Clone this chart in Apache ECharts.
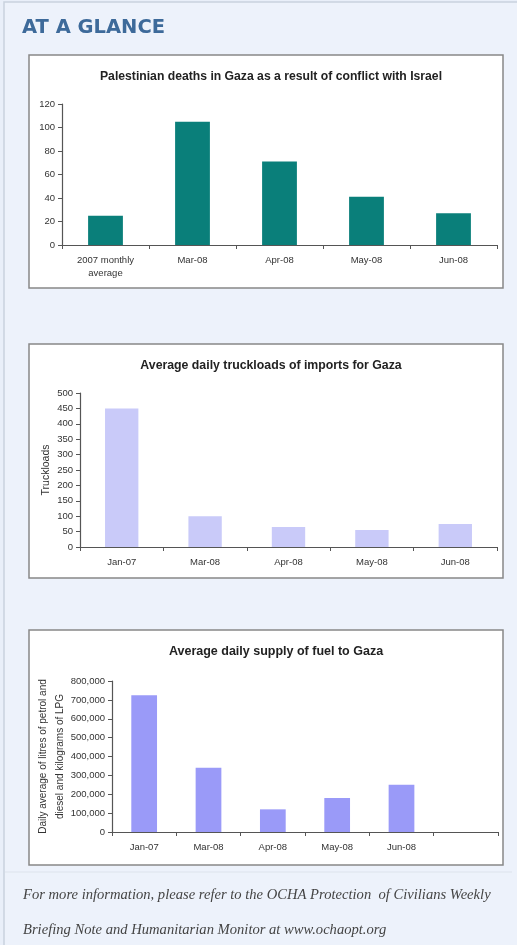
<!DOCTYPE html>
<html>
<head>
<meta charset="utf-8">
<script src="https://cdn.jsdelivr.net/npm/echarts@6/dist/echarts.min.js"></script>
<style>
html,body{margin:0;padding:0;background:#e9eff9;}
#page{width:517px;height:945px;}
</style>
</head>
<body>
<div id="page"></div>
<script>
// chart data
var deathCats = ['2007 monthly\naverage', 'Mar-08', 'Apr-08', 'May-08', 'Jun-08'];
var deathVals = [25, 105, 71, 41, 27];

var truckCats = ['Jan-07', 'Mar-08', 'Apr-08', 'May-08', 'Jun-08'];
var truckVals = [450, 100, 65, 55, 75];

var fuelCats = ['Jan-07', 'Mar-08', 'Apr-08', 'May-08', 'Jun-08', ''];
var fuelVals = [725000, 340000, 120000, 180000, 250000, null];

var deathTicks = {max: 120, interval: 20};
var truckTicks = {max: 500, interval: 50};
var fuelTicks = {max: 800000, interval: 100000};

var FONT = 'Liberation Sans, Arial, sans-serif';
var axisCol = '#555';

function xAx(idx, cats){
	return {
		type: 'category', gridIndex: idx, data: cats,
		axisLine: {lineStyle: {color: axisCol, width: 1.2}},
		axisTick: {show: true, length: 4, lineStyle: {color: axisCol}},
		axisLabel: {color: '#333', fontSize: 9.5, fontFamily: FONT, margin: 9, lineHeight: 13, interval: 0}
	};
}
function yAx(idx, t, fmt){
	return {
		type: 'value', gridIndex: idx, min: 0, max: t.max, interval: t.interval,
		axisLine: {show: true, lineStyle: {color: axisCol, width: 1.2}},
		axisTick: {show: true, length: 4, lineStyle: {color: axisCol}},
		splitLine: {show: false},
		axisLabel: {color: '#333', fontSize: 9.5, fontFamily: FONT, margin: 7, formatter: fmt}
	};
}

var panels = [[55, 288], [344, 578], [630, 865]];
var graphics = [];
// page border
graphics.push({type: 'rect', shape: {x: 4, y: 2, width: 520, height: 950},
	style: {fill: '#edf2fb', stroke: '#c9d2de', lineWidth: 1.5}, z: -10});
panels.forEach(function(p){
	graphics.push({type: 'rect', shape: {x: 29, y: p[0], width: 474, height: p[1] - p[0]},
		style: {fill: '#fff', stroke: '#888', lineWidth: 1.5}, z: -5});
});
graphics.push({type: 'text', left: 22, top: 18,
	style: {text: 'AT A GLANCE', fill: '#3d6a9a', font: 'bold 19.5px "DejaVu Sans", sans-serif'}});
graphics.push({type: 'line', shape: {x1: 5, y1: 872, x2: 512, y2: 872},
	style: {stroke: '#dde3ec', lineWidth: 1}});
graphics.push({type: 'text', left: 23, top: 888,
	style: {text: 'For more information, please refer to the OCHA Protection  of Civilians Weekly',
		fill: '#444', font: 'italic 14.6px "Liberation Serif", serif'}});
graphics.push({type: 'text', left: 23, top: 923,
	style: {text: 'Briefing Note and Humanitarian Monitor at www.ochaopt.org',
		fill: '#444', font: 'italic 14.6px "Liberation Serif", serif'}});

var titleStyle = {fontWeight: 'bold', color: '#222', fontFamily: FONT};

var option = {
	animation: false,
	backgroundColor: '#e9eff9',
	graphic: graphics,
	title: [
		{text: 'Palestinian deaths in Gaza as a result of conflict with Israel', left: 266, top: 66, textAlign: 'center',
			textStyle: Object.assign({fontSize: 12.2}, titleStyle)},
		{text: 'Average daily truckloads of imports for Gaza', left: 266, top: 355, textAlign: 'center',
			textStyle: Object.assign({fontSize: 12.3}, titleStyle)},
		{text: 'Average daily supply of fuel to Gaza', left: 271, top: 640, textAlign: 'center',
			textStyle: Object.assign({fontSize: 12.5}, titleStyle)}
	],
	grid: [
		{left: 62, right: 20, top: 104, bottom: 700},
		{left: 80, right: 20, top: 393, bottom: 398},
		{left: 112, right: 19, top: 681, bottom: 113}
	],
	xAxis: [xAx(0, deathCats), xAx(1, truckCats), xAx(2, fuelCats)],
	yAxis: [
		yAx(0, deathTicks),
		Object.assign(yAx(1, truckTicks), {
			name: 'Truckloads', nameLocation: 'middle', nameGap: 28, nameRotate: 90,
			nameMoveOverlap: false,
			nameTextStyle: {fontSize: 10.5, color: '#333', fontFamily: FONT}
		}),
		Object.assign(yAx(2, fuelTicks, function(v){ return v.toLocaleString('en-US'); }), {
			name: 'Daily average of litres of petrol and\ndiesel and kilograms of LPG',
			nameLocation: 'middle', nameGap: 43, nameRotate: 90,
			nameMoveOverlap: false,
			nameTextStyle: {fontSize: 10, color: '#333', fontFamily: FONT, lineHeight: 17}
		})
	],
	series: [
		{type: 'bar', xAxisIndex: 0, yAxisIndex: 0, data: deathVals, barWidth: '40%', itemStyle: {color: '#0a7f7a'}},
		{type: 'bar', xAxisIndex: 1, yAxisIndex: 1, data: truckVals, barWidth: '40%', itemStyle: {color: '#c9caf9'}},
		{type: 'bar', xAxisIndex: 2, yAxisIndex: 2, data: fuelVals, barWidth: '40%', itemStyle: {color: '#9a9af8'}}
	]
};

var chart = echarts.init(document.getElementById('page'), null, {renderer: 'canvas'});
chart.setOption(option);
window.onresize = function(){ chart.resize(); };
</script>
</body>
</html>
